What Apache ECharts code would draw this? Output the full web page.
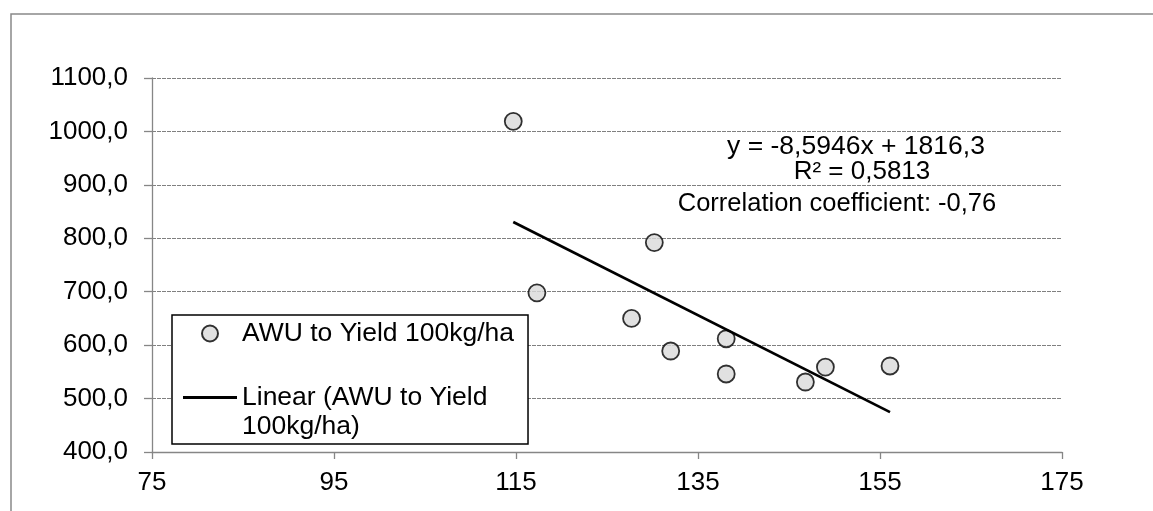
<!DOCTYPE html>
<html lang="en">
<head>
    <meta charset="UTF-8">
    <title>AWU to Yield</title>
    <style>
        html, body { margin: 0; padding: 0; background: #fff; }
    </style>
    <script src="https://cdn.jsdelivr.net/npm/echarts@6/dist/echarts.min.js"></script>
</head>
<body>
<div id="main" style="width:1153px;height:511px"></div>
<script>
    // values
    var awu = [114.7, 117.3, 127.7, 130.2, 132.0, 138.1, 138.1, 146.8, 149.0, 156.1];
    var yieldVals = [1019, 698, 650, 792, 589, 612, 546, 531, 559, 561];
    var trendX = [114.7, 156.1];
    var trendY = [830.5, 474.7];
    var xTicks = [75, 95, 115, 135, 155, 175];
    var yTicks = [400, 500, 600, 700, 800, 900, 1000, 1100];

    var pointName = 'AWU to Yield 100kg/ha';
    var trendName = 'Linear (AWU to Yield 100kg/ha)';
    var font = 'Liberation Sans, Arial, sans-serif';

    var points = awu.map(function (x, i) { return [x, yieldVals[i]]; });
    var trend = trendX.map(function (x, i) { return [x, trendY[i]]; });

    var myChart = echarts.init(document.getElementById('main'));

    var option = {
        animation: false,
        textStyle: { fontFamily: font },
        grid: {
            left: 152, right: 91, top: 78, bottom: 59,
            outerBoundsMode: 'none'
        },
        xAxis: {
            type: 'value',
            min: xTicks[0],
            max: xTicks[xTicks.length - 1],
            interval: 20,
            axisLine: { lineStyle: { color: '#868686', width: 1.3 } },
            axisTick: { show: true, length: 7, lineStyle: { color: '#868686', width: 1.3 } },
            axisLabel: { color: '#000', fontSize: 26, margin: 18, fontFamily: font },
            splitLine: { show: false }
        },
        yAxis: {
            type: 'value',
            min: yTicks[0],
            max: yTicks[yTicks.length - 1],
            interval: 100,
            axisLine: { show: true, lineStyle: { color: '#868686', width: 1.3 } },
            axisTick: { show: true, length: 8, lineStyle: { color: '#868686', width: 1.3 } },
            axisLabel: {
                color: '#000', fontSize: 26, margin: 24, fontFamily: font,
                formatter: function (v) { return v.toFixed(1).replace('.', ','); }
            },
            splitLine: { lineStyle: { color: '#808080', width: 1, type: [4, 1] } }
        },
        legend: {
            orient: 'vertical',
            left: 172,
            top: 315,
            padding: [4, 14, 3, 11],
            itemGap: 6,
            itemWidth: 54,
            itemHeight: 16,
            backgroundColor: '#fff',
            borderColor: '#000',
            borderWidth: 1.5,
            textStyle: { color: '#000', fontSize: 26.5, lineHeight: 29, fontFamily: font },
            formatter: function (name) {
                // blank first line keeps "Linear" level with the icon, like Excel
                return name === trendName ? '\nLinear (AWU to Yield\n100kg/ha)' : name;
            },
            data: [
                { name: pointName, icon: 'circle' },
                {
                    name: trendName,
                    icon: 'path://M0,0 L54,0 L54,3.2 L0,3.2 Z',
                    itemStyle: { color: '#000', borderWidth: 0 }
                }
            ]
        },
        graphic: [
            {
                type: 'rect',
                silent: true,
                z: -10,
                shape: { x: 11, y: 14, width: 1300, height: 700 },
                style: { fill: 'none', stroke: '#898989', lineWidth: 1.5 }
            },
            {
                type: 'text', x: 856, y: 147,
                style: { text: 'y = -8,5946x + 1816,3', fontSize: 26.5, fontFamily: font, fill: '#000', align: 'center', verticalAlign: 'middle' }
            },
            {
                type: 'text', x: 862, y: 172,
                style: { text: 'R² = 0,5813', fontSize: 26, fontFamily: font, fill: '#000', align: 'center', verticalAlign: 'middle' }
            },
            {
                type: 'text', x: 837, y: 204,
                style: { text: 'Correlation coefficient: -0,76', fontSize: 25.5, fontFamily: font, fill: '#000', align: 'center', verticalAlign: 'middle' }
            }
        ],
        series: [
            {
                name: pointName,
                type: 'scatter',
                data: points,
                symbol: 'circle',
                symbolSize: 17,
                itemStyle: { color: '#d9d9d9', borderColor: '#000', borderWidth: 1.8 },
                z: 3
            },
            {
                name: trendName,
                type: 'line',
                data: trend,
                symbol: 'none',
                showSymbol: false,
                lineStyle: { color: '#000', width: 2.7 },
                itemStyle: { color: '#000' },
                z: 4
            }
        ]
    };

    myChart.setOption(option);
</script>
</body>
</html>
